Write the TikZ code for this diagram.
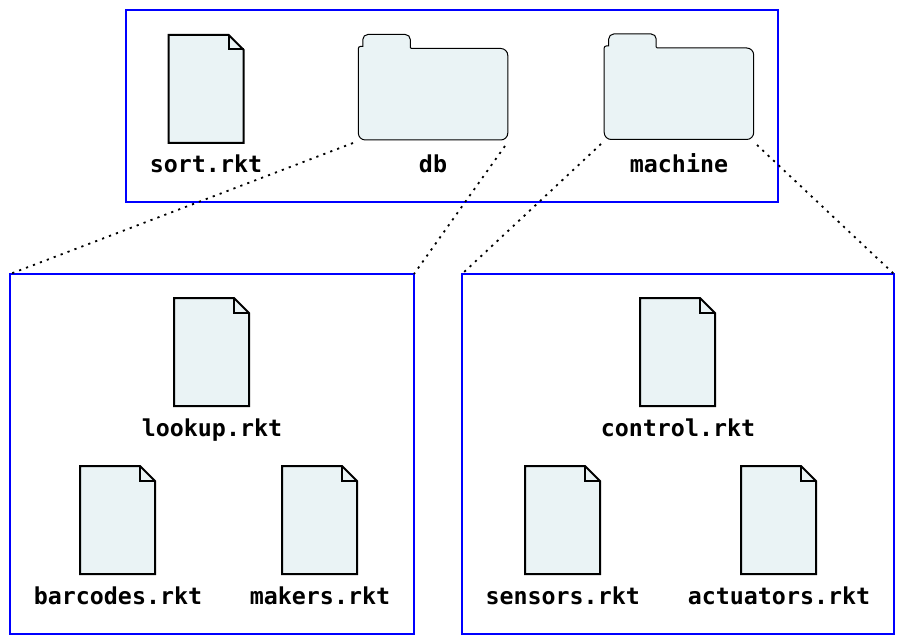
\documentclass[tikz,border=0pt]{standalone}
\usepackage{fontspec}
\setmonofont{DejaVu Sans Mono}
\definecolor{paleblue}{HTML}{EAF3F5}
\tikzset{
    every picture/.style={x=1pt,y=-1pt},
    dirbox/.style={draw=blue,line width=2pt,rectangle,inner sep=0pt,outer sep=0pt,anchor=north west},
    sheet/.style={draw=black,fill=paleblue,line width=2pt,line join=miter},
    crease/.style={draw=black,line width=2pt},
    folderline/.style={draw=black,fill=paleblue,line width=1pt},
    filename/.style={font=\ttfamily\bfseries\fontsize{23.3}{26}\selectfont,anchor=base,inner sep=0pt},
    zoomline/.style={draw=black,line width=1.8pt,dash pattern=on 2.2pt off 5.2pt}
}
% one source file: top left corner at (#2,#3), label centred at #4
\newcommand{\rktfile}[5]{
    \draw [sheet] (#2,#3) -- ++(60,0) -- ++(15,15) -- ++(0,93) -- ++(-75,0) -- cycle;
    \draw [crease] (#2+60,#3) -- ++(0,14.5) -- ++(15,0);
    \node [filename] (#1) at (#4,#5) {#1.rkt};
}
% one directory: top left corner of the front at (#2,#3)
\newcommand{\rktfolder}[3]{
    \draw [folderline] (#2+4.5,#3-2)
        [rounded corners=5pt] -- (#2+4.5,#3-14) -- (#2+52,#3-14)
        [rounded corners=1pt] -- (#2+52,#3)
        [rounded corners=7pt] -- (#2+149.5,#3) -- (#2+149.5,#3+91.5) -- (#2,#3+91.5)
        [rounded corners=2pt] -- (#2,#3-2) [sharp corners] -- cycle;
}
\begin{document}
\begin{tikzpicture}
    \useasboundingbox (0,0) rectangle (904,644);

    % the three directories
    \node [dirbox,minimum width=652pt,minimum height=191.5pt] (rootdir) at (126,10.5) {};
    \node [dirbox,minimum width=404pt,minimum height=360pt] (dbdir) at (10,274) {};
    \node [dirbox,minimum width=432pt,minimum height=360pt] (machinedir) at (462,274) {};

    % top level
    \rktfile{sort}{168.7}{35}{206}{172.6}
    \rktfolder{db}{358.3}{48.5}
    \rktfolder{machine}{604.2}{48}
    \node [filename] (dbname) at (433,172.6) {db};
    \node [filename] (machinename) at (679,172.6) {machine};

    % inside db
    \rktfile{lookup}{174}{298}{212}{436}
    \rktfile{barcodes}{80}{466}{118}{604}
    \rktfile{makers}{282}{466}{320}{604}

    % inside machine
    \rktfile{control}{640}{298}{678}{436}
    \rktfile{sensors}{525}{466}{562.7}{604}
    \rktfile{actuators}{741}{466}{779}{604}

    % zoom lines
    \coordinate (dbleft) at (353,143);
    \coordinate (dbright) at (505,146);
    \coordinate (machineleft) at (601,144);
    \coordinate (machineright) at (757,145);
    \draw [zoomline] (dbleft) -- (dbdir.north west);
    \draw [zoomline] (dbright) -- (dbdir.north east);
    \draw [zoomline] (machineleft) -- (machinedir.north west);
    \draw [zoomline] (machineright) -- (machinedir.north east);
\end{tikzpicture}
\end{document}
